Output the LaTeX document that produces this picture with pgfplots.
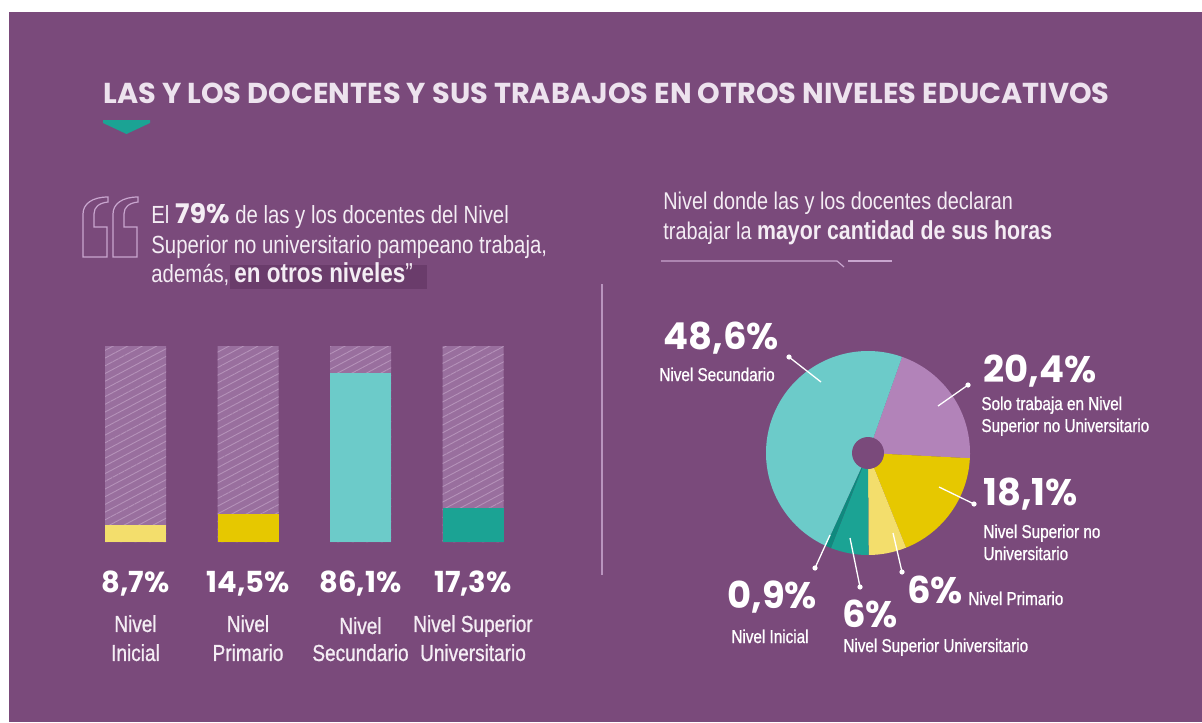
\documentclass[border=0pt]{standalone}
\usepackage{fontspec}
\setmainfont{Liberation Sans}
\newfontfamily\cond[FakeStretch=0.82]{Liberation Sans}
\newfontfamily\condm[FakeStretch=0.82, FakeBold=0.9]{Liberation Sans}
\newfontfamily\geo{Poppins}
\usepackage{graphicx}
\usepackage{pgfplots}
\pgfplotsset{compat=1.18}
\usetikzlibrary{patterns.meta}

\definecolor{bgp}{HTML}{7A4A7B}
\definecolor{darkp}{HTML}{6A3C6B}
\definecolor{bgbar}{HTML}{996F9E}
\definecolor{hatch}{HTML}{B592B9}
\definecolor{titlec}{HTML}{EDE3EE}
\definecolor{txt}{HTML}{F4EDF4}
\definecolor{linec}{HTML}{C9A6CF}
\definecolor{tealc}{HTML}{1BA394}
\definecolor{cyanc}{HTML}{6CCBC9}
\definecolor{pinkc}{HTML}{B283B9}
\definecolor{yelc}{HTML}{E6C800}
\definecolor{lyelc}{HTML}{F3DE6C}
\definecolor{dtealc}{HTML}{0F897E}

% pie slice: start angle, value (%), colour
\newcommand\slice[3]{\fill[#3] (axis cs:0,0) -- (axis cs:{cos(#1)},{sin(#1)}) arc[start angle=#1, delta angle={-3.6*#2}, radius=51pt] -- cycle;}
\newcommand\bignum[1]{{\geo\bfseries\fontsize{18.5}{18.5}\selectfont #1}}
\newcommand\lab[1]{{\condm\fontsize{9.3}{9.3}\selectfont #1}}

\begin{document}
\begin{tikzpicture}
\begin{scope}[x=0.5pt,y=-0.5pt]
\fill[white] (0,0) rectangle (1202,722);
\fill[bgp] (9,12) rectangle (1202,722);
\useasboundingbox (0,0) rectangle (1202,722);

% title
\node[anchor=base west, inner sep=0, text=titlec] at (103,104)
  {\resizebox{503pt}{!}{\geo\bfseries\fontsize{16}{16}\selectfont LAS Y LOS DOCENTES Y SUS TRABAJOS EN OTROS NIVELES EDUCATIVOS}};
\fill[tealc] (103,120) -- (150,120) -- (150,123) -- (126.5,134) -- (103,123) -- cycle;

% quote marks
\foreach \dx in {0,30}{
  \draw[linec, line width=0.6pt, shift={(\dx,0)}] (83,257) -- (107,257) -- (107,227) -- (94,227) -- (94,214)
    .. controls (94,207) and (99,203) .. (108,202) -- (108,197)
    .. controls (92,197) and (83,204) .. (83,214) -- cycle;
}
\fill[darkp] (230,265) rectangle (427,289);
\begin{scope}[every node/.style={anchor=base west, inner sep=0, text=txt}]
\node at (151,223) {\cond\fontsize{12.4}{12.4}\selectfont El {\geo\bfseries\fontsize{13.5}{13.5}\selectfont 79\%} de las y los docentes del Nivel};
\node at (151,253) {\cond\fontsize{12.4}{12.4}\selectfont Superior no universitario pampeano trabaja,};
\node at (151,282) {\cond\fontsize{12.4}{12.4}\selectfont además,};
\node at (234,282) {\cond\fontsize{13.7}{13.7}\selectfont\bfseries en otros niveles\mdseries”};

\node at (663,209) {\cond\fontsize{12.1}{12.1}\selectfont Nivel donde las y los docentes declaran};
\node at (663,239) {\cond\fontsize{12.1}{12.1}\selectfont trabajar la {\bfseries\fontsize{13}{13}\selectfont mayor cantidad de sus horas}};
\end{scope}
\draw[linec, line width=0.6pt] (661,261) -- (837,261) -- (844,267);
\draw[linec, line width=0.6pt] (848,261) -- (892,261);

% divider
\draw[linec!80!bgp, line width=0.8pt] (602,284) -- (602,575);
\end{scope}

% bars (1 px = 0.5pt, y downwards in the reference)
\begin{axis}[at={(39.625pt,-271pt)}, anchor=south west, scale only axis,
  width=225pt, height=98pt, hide axis, clip=false,
  xmin=-0.5, xmax=3.5, ymin=0, ymax=100]
\addplot[ybar, bar width=30.5pt, bar shift=0pt, fill=bgbar, draw=none,
  postaction={pattern={Lines[angle=28,distance=3.4pt,line width=0.45pt]}, pattern color=hatch}]
  coordinates {(0,100)(1,100)(2,100)(3,100)};
\addplot[ybar, bar width=30.5pt, bar shift=0pt, fill=lyelc, draw=none] coordinates {(0,8.7)};
\addplot[ybar, bar width=30.5pt, bar shift=0pt, fill=yelc, draw=none] coordinates {(1,14.5)};
\addplot[ybar, bar width=30.5pt, bar shift=0pt, fill=cyanc, draw=none] coordinates {(2,86.1)};
\addplot[ybar, bar width=30.5pt, bar shift=0pt, fill=tealc, draw=none] coordinates {(3,17.3)};
\begin{scope}[every node/.style={anchor=base, inner sep=0, text=white}]
\node at (axis cs:0,-26) {\geo\bfseries\fontsize{14.5}{14.5}\selectfont 8,7\%};
\node at (axis cs:1,-26) {\geo\bfseries\fontsize{14.5}{14.5}\selectfont 14,5\%};
\node at (axis cs:2,-26) {\geo\bfseries\fontsize{14.5}{14.5}\selectfont 86,1\%};
\node at (axis cs:3,-26) {\geo\bfseries\fontsize{14.5}{14.5}\selectfont 17,3\%};
\end{scope}
\begin{scope}[every node/.style={anchor=base, inner sep=0, text=txt, font=\condm\fontsize{11.6}{11.6}\selectfont}]
\node at (axis cs:0,-45.9) {Nivel};      \node at (axis cs:0,-60.7) {Inicial};
\node at (axis cs:1,-45.9) {Nivel};      \node at (axis cs:1,-60.7) {Primario};
\node at (axis cs:2,-46.9) {Nivel};      \node at (axis cs:2,-60.7) {Secundario};
\node at (axis cs:3,-45.9) {Nivel Superior}; \node at (axis cs:3,-60.7) {Universitario};
\end{scope}
\end{axis}

% pie
\begin{axis}[at={(434pt,-226.5pt)}, anchor=origin, scale only axis,
  width=102pt, height=102pt, hide axis, clip=false,
  xmin=-1, xmax=1, ymin=-1, ymax=1]
\slice{70.5}{20.4}{pinkc}
\slice{-2.94}{18.1}{yelc}
\slice{-68.1}{6}{lyelc}
\slice{-89.7}{6}{tealc}
\slice{-111.3}{0.9}{dtealc}
\slice{-114.54}{48.6}{cyanc}
\fill[bgp] (axis cs:0,0) circle[radius=8pt];
\end{axis}

\begin{scope}[x=0.5pt,y=-0.5pt]
% leaders
\begin{scope}[white, line width=0.65pt]
\draw (789,357) -- (821,382); \fill (789,357) circle[radius=2.6];
\draw (968,385) -- (938,406); \fill (968,385) circle[radius=2.6];
\draw (974,504) -- (939,487); \fill (974,504) circle[radius=2.6];
\draw (902,572) -- (893,533); \fill (902,572) circle[radius=2.6];
\draw (860,587) -- (850,538); \fill (860,587) circle[radius=2.6];
\draw (815,568) -- (830,535); \fill (815,568) circle[radius=2.6];
\end{scope}

\begin{scope}[every node/.style={anchor=base west, inner sep=0, text=white}]
\node at (663,349) {\bignum{48,6\%}};
\node at (659,381) {\lab{Nivel Secundario}};
\node at (983,382) {\bignum{20,4\%}};
\node at (981,410) {\lab{Solo trabaja en Nivel}};
\node at (981,432) {\lab{Superior no Universitario}};
\node at (983,505) {\bignum{18,1\%}};
\node at (983,538) {\lab{Nivel Superior no}};
\node at (983,560) {\lab{Universitario}};
\node at (907,603) {\bignum{6\%}};
\node at (968,605) {\lab{Nivel Primario}};
\node at (842,627) {\bignum{6\%}};
\node at (843,652) {\lab{Nivel Superior Universitario}};
\node at (727,608) {\bignum{0,9\%}};
\node[anchor=base] at (770,643) {\lab{Nivel Inicial}};
\end{scope}
\end{scope}
\end{tikzpicture}
\end{document}
